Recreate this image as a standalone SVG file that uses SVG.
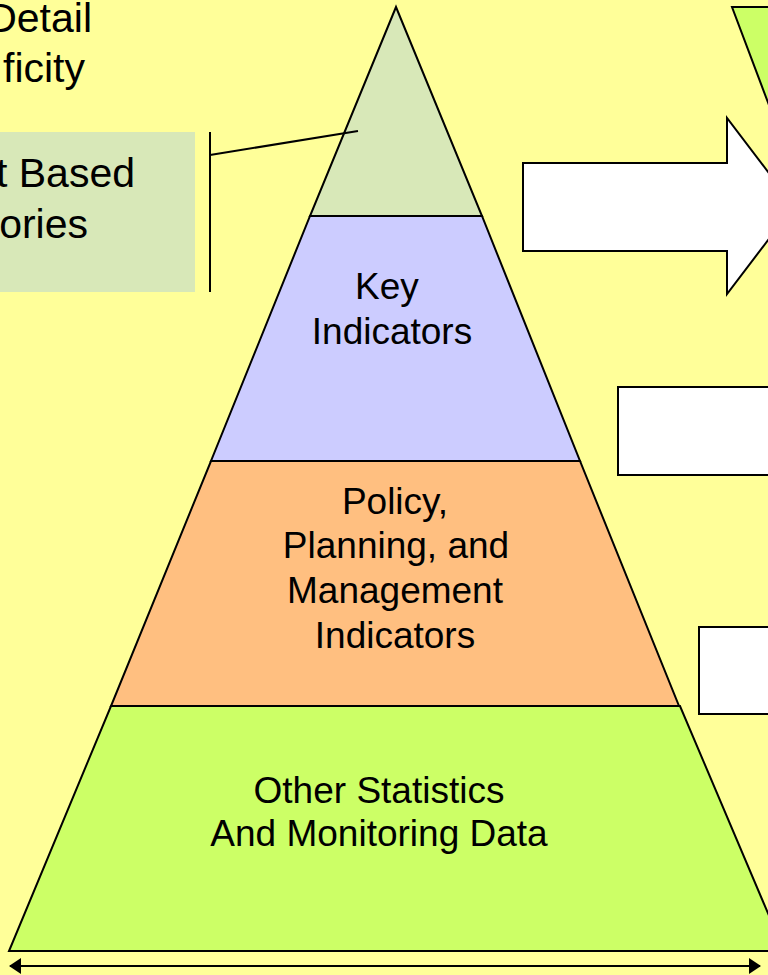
<svg xmlns="http://www.w3.org/2000/svg" width="768" height="975" viewBox="0 0 768 975">
  <defs>
    <marker id="ah" viewBox="0 0 12 16" refX="11" refY="8" markerWidth="12" markerHeight="16" markerUnits="userSpaceOnUse" orient="auto-start-reverse">
      <path d="M0,0 L12,8 L0,16 Z" fill="#000"/>
    </marker>
  </defs>
  <style>
    .shape { stroke: #000; stroke-width: 2; stroke-linejoin: miter; }
    .lbl { font-family: "Liberation Sans", Arial, sans-serif; font-size: 37px; fill: #000; text-anchor: middle; }
    .side { font-family: "Liberation Sans", Arial, sans-serif; font-size: 41px; fill: #000; text-anchor: end; }
    .line { stroke: #000; stroke-width: 2; fill: none; }
  </style>
  <rect width="768" height="975" fill="#ffff99"/>

  <g id="side-label">
    <text class="side" x="92" y="32">Detail</text>
    <text class="side" x="85" y="82">ficity</text>
  </g>

  <g id="callout">
    <rect x="-2" y="132" width="197" height="160" fill="#d8e8b8"/>
    <text class="side" x="135" y="187">t Based</text>
    <text class="side" x="88" y="238">ories</text>
  </g>

  <g id="top-right-shape">
    <polygon class="shape" points="732,7 810,7 810,214" fill="#ccff66"/>
  </g>

  <g id="block-arrow">
    <polygon class="shape" points="523,163 727,163 727,118 794,206 727,294 727,251 523,251" fill="#ffffff"/>
  </g>

  <g id="box-1">
    <rect class="shape" x="618" y="387" width="200" height="88" fill="#ffffff"/>
  </g>
  <g id="box-2">
    <rect class="shape" x="699" y="627" width="120" height="87" fill="#ffffff"/>
  </g>

  <g id="tier-top">
    <polygon class="shape" points="396,7 482,216 310,216" fill="#d8e8b8"/>
  </g>
  <g id="tier-key">
    <polygon class="shape" points="310,216 482,216 580,461 211,461" fill="#ccccff"/>
    <text class="lbl" x="387" y="299">Key</text>
    <text class="lbl" x="392" y="344">Indicators</text>
  </g>
  <g id="tier-policy">
    <polygon class="shape" points="211,461 580,461 679,706 111,706" fill="#ffbf80"/>
    <text class="lbl" x="395" y="514">Policy,</text>
    <text class="lbl" x="396" y="558">Planning, and</text>
    <text class="lbl" x="395" y="603">Management</text>
    <text class="lbl" x="395" y="648">Indicators</text>
  </g>
  <g id="tier-base">
    <polygon class="shape" points="111,706 680,706 784,951 9,951" fill="#ccff66"/>
    <text class="lbl" x="379" y="803">Other Statistics</text>
    <text class="lbl" x="379" y="846">And Monitoring Data</text>
  </g>

  <g id="connectors">
    <line class="line" x1="210" y1="132" x2="210" y2="292"/>
    <line class="line" x1="210" y1="155" x2="358" y2="131"/>
    <line class="line" x1="10" y1="966" x2="760" y2="966" marker-start="url(#ah)" marker-end="url(#ah)"/>
  </g>
</svg>
